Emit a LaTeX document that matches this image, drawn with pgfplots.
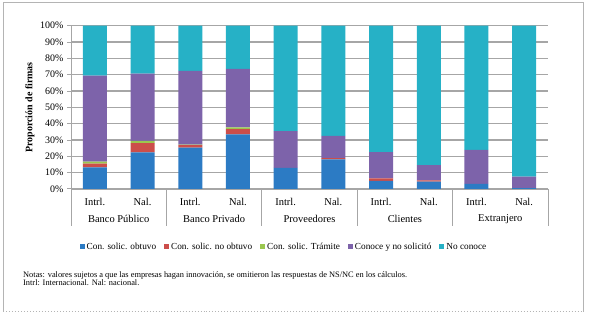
\documentclass[border=0pt]{standalone}
\usepackage{pgfplots}
\pgfplotsset{compat=1.18}
\usepackage{fontspec}
\setmainfont{Liberation Serif}
\definecolor{cblue}{HTML}{2C7BC4}
\definecolor{cred}{HTML}{CC4E4A}
\definecolor{cgreen}{HTML}{9BC74F}
\definecolor{cpurple}{HTML}{7D63AA}
\definecolor{ccyan}{HTML}{26B1C6}
\definecolor{gridgray}{HTML}{A6A6A6}
\definecolor{framegray}{HTML}{B4B4B4}
\begin{document}
\begin{tikzpicture}
\useasboundingbox (0bp,0bp) rectangle (589bp,317bp);
\draw[framegray, line width=1bp] (3bp,5bp) -- (3bp,314bp) -- (583bp,314bp) -- (583bp,5bp);
\draw[framegray, line width=1bp, dotted] (3bp,5bp) -- (583bp,5bp);
\begin{axis}[
  at={(71bp,128bp)}, anchor=south west,
  scale only axis, width=477bp, height=163.3bp,
  ybar stacked, bar width=24bp,
  xmin=-0.5, xmax=9.5, ymin=0, ymax=100,
  axis x line=bottom, axis y line=left,
  axis line style={-, gridgray, line width=1bp},
  xtick={0,...,9},
  xticklabels={Intrl.,Nal.,Intrl.,Nal.,Intrl.,Nal.,Intrl.,Nal.,Intrl.,Nal.},
  x tick style={draw=none},
  xticklabel style={font=\fontsize{10.5}{12}\selectfont, yshift=-2bp},
  ytick={0,10,...,100},
  yticklabel={\pgfmathprintnumber{\tick}\%},
  yticklabel style={font=\fontsize{10}{11}\selectfont},
  /pgf/number format/assume math mode=true,
  y tick style={gridgray, line width=1bp},
  tick align=outside, major tick length=4bp,
  ymajorgrids, major grid style={gridgray, line width=1.2bp},
  ylabel={Proporción de firmas},
  ylabel style={font=\bfseries\fontsize{10}{12}\selectfont, at={(axis description cs:-0.086,0.5)}, anchor=center},
  clip=false,
  legend columns=5,
  legend style={draw=none, at={(axis description cs:0.4465,-0.355)}, anchor=center,
    font=\fontsize{9.3}{11}\selectfont,
    /tikz/every even column/.append style={column sep=6bp}},
  legend image code/.code={\fill[#1] (0bp,-2.5bp) rectangle (5bp,2.5bp);},
]
\addplot+[fill=cblue, draw=none] coordinates {(0,13.3) (1,22.4) (2,25.3) (3,33.5) (4,13.0) (5,18.1) (6,4.9) (7,4.5) (8,3.1) (9,0.6)};
\addplot+[fill=cred, draw=none] coordinates {(0,2.2) (1,5.7) (2,1.6) (3,3.1) (4,0) (5,0.8) (6,1.6) (7,0.8) (8,0) (9,0)};
\addplot+[fill=cgreen, draw=none] coordinates {(0,1.2) (1,1.3) (2,0.2) (3,1.1) (4,0) (5,0) (6,0) (7,0) (8,0) (9,0)};
\addplot+[fill=cpurple, draw=none] coordinates {(0,52.8) (1,41.2) (2,45.3) (3,35.8) (4,22.4) (5,13.6) (6,16.1) (7,9.3) (8,20.8) (9,7.0)};
\addplot+[fill=ccyan, draw=none] coordinates {(0,30.5) (1,29.4) (2,27.6) (3,26.5) (4,64.6) (5,67.5) (6,77.4) (7,85.4) (8,76.1) (9,92.4)};
\legend{Con. solic. obtuvo,Con. solic. no obtuvo,Con. solic. Trámite,Conoce y no solicitó,No conoce}
\draw[gridgray, line width=1bp] (axis cs:-0.5,0) -- ([yshift=-37bp]axis cs:-0.5,0);
\draw[gridgray, line width=1bp] (axis cs:1.5,0) -- ([yshift=-37bp]axis cs:1.5,0);
\draw[gridgray, line width=1bp] (axis cs:3.5,0) -- ([yshift=-37bp]axis cs:3.5,0);
\draw[gridgray, line width=1bp] (axis cs:5.5,0) -- ([yshift=-37bp]axis cs:5.5,0);
\draw[gridgray, line width=1bp] (axis cs:7.5,0) -- ([yshift=-37bp]axis cs:7.5,0);
\draw[gridgray, line width=1bp] (axis cs:9.5,0) -- ([yshift=-37bp]axis cs:9.5,0);
\node[font=\fontsize{10.5}{12}\selectfont] at ([yshift=-30bp]axis cs:0.5,0) {Banco Público};
\node[font=\fontsize{10.5}{12}\selectfont] at ([yshift=-30bp]axis cs:2.5,0) {Banco Privado};
\node[font=\fontsize{10.5}{12}\selectfont] at ([yshift=-30bp]axis cs:4.5,0) {Proveedores};
\node[font=\fontsize{10.5}{12}\selectfont] at ([yshift=-30bp]axis cs:6.5,0) {Clientes};
\node[font=\fontsize{10.5}{12}\selectfont] at ([yshift=-30bp]axis cs:8.5,0) {Extranjero};
\end{axis}
\node[anchor=north west, align=left, inner sep=0pt, font=\fontsize{8.4}{8.6}\selectfont] at (23bp,46bp)
  {Notas: valores sujetos a que las empresas hagan innovación, se omitieron las respuestas de NS/NC en los cálculos.\\
   Intrl: Internacional. Nal: nacional.};
\end{tikzpicture}
\end{document}
